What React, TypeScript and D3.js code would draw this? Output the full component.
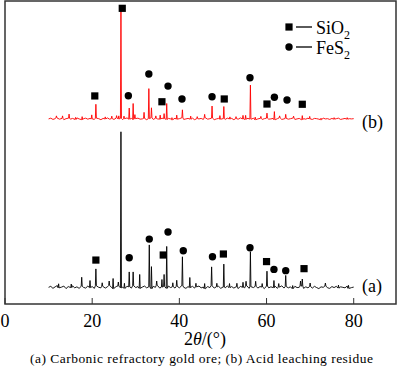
import { useEffect, useRef } from "react";
import * as d3 from "d3";

// 2θ range of the scans
const scanStart = 10;
const scanEnd = 80;

// background counts, evenly spaced over 10..80°
const backgroundA = [
  66, 70, 62, 68, 73, 64, 67, 71, 61, 69, 65, 72, 64, 68, 62, 70, 66, 63, 71, 65,
  69, 62, 72, 66, 64, 70, 63, 68, 73, 65, 61, 69, 71, 64, 67, 62, 70, 68, 63, 72,
  65, 69, 62, 67, 71, 64, 68, 61, 70, 66, 73, 63, 67, 69, 62, 71, 65, 68, 63, 70,
  64, 72, 66, 62, 69, 65, 70, 63, 68, 71, 64, 67, 61, 69, 65, 72, 63, 68, 70, 62,
  67, 64, 71, 65, 69, 63, 68, 61, 70, 66, 64, 72, 62, 68, 65, 70, 63, 69, 67, 61,
  71, 64, 68, 65, 70, 62, 67, 72, 63, 69, 64, 68, 61, 70, 65, 66, 71, 62, 68, 64,
  69, 63, 70, 65, 61, 68, 66, 71, 64, 62, 69, 65, 70, 63, 68, 66, 64, 71, 62, 65,
  67,
];

const backgroundB = [
  73, 76, 71, 74, 77, 72, 75, 70, 74, 76, 72, 75, 71, 77, 73, 70, 74, 76, 72, 75,
  73, 71, 76, 74, 70, 75, 73, 77, 72, 74, 71, 76, 73, 75, 70, 74, 77, 72, 75, 71,
  74, 76, 72, 73, 75, 70, 74, 77, 71, 75, 73, 72, 76, 74, 71, 75, 73, 70, 76, 72,
  74, 77, 71, 73, 75, 72, 76, 70, 74, 73, 75, 71, 77, 72, 74, 76, 70, 73, 75, 72,
  74, 71, 76, 73, 75, 70, 74, 72, 77, 73, 71, 75, 74, 72, 76, 70, 73, 75, 71, 74,
  76, 72, 73, 75, 70, 74, 77, 71, 73, 75, 72, 74, 76, 71, 73, 75, 70, 74, 72, 76,
  73, 71, 75, 74, 72, 70, 76, 73, 74, 71, 75, 72, 74, 76, 71, 73, 75, 72, 74, 73,
  74,
];

// diffraction peaks: [2θ, height above background]
const peaksA: [number, number][] = [
  [12.3, 16], [15.2, 14], [17.6, 36], [19.5, 28], [20.85, 67], [22.3, 14],
  [23.9, 18], [24.8, 40], [26.0, 16], [26.6, 618], [27.4, 20], [28.5, 59],
  [29.4, 55], [30.9, 55], [33.1, 166], [33.6, 87], [34.8, 18], [36.0, 30],
  [36.5, 48], [37.1, 166], [38.5, 16], [39.4, 24], [40.7, 115], [42.4, 40],
  [43.8, 14], [45.8, 20], [47.4, 75], [48.6, 14], [50.2, 91], [51.5, 16],
  [53.2, 14], [54.6, 20], [55.3, 18], [56.3, 139], [57.5, 20], [59.0, 14],
  [60.1, 59], [61.7, 28], [62.8, 14], [64.4, 44], [66.0, 12], [67.8, 20],
  [68.2, 28], [70.0, 14], [73.5, 12], [76.5, 12], [78.8, 12],
];

const peaksB: [number, number][] = [
  [11.8, 8], [13.2, 10], [14.7, 16], [16.2, 8], [17.7, 12], [19.9, 16],
  [20.85, 55], [23.0, 8], [24.5, 10], [25.6, 10], [26.1, 12], [26.6, 432],
  [27.3, 10], [28.5, 44], [29.4, 63], [29.8, 16], [31.9, 24], [33.0, 119],
  [33.6, 40], [34.6, 10], [35.6, 16], [36.5, 20], [37.1, 63], [38.3, 8],
  [39.4, 16], [40.7, 32], [42.6, 12], [44.1, 8], [45.8, 14], [47.5, 48],
  [49.3, 14], [50.2, 48], [51.6, 8], [53.0, 8], [54.6, 14], [55.2, 16],
  [56.3, 135], [57.4, 10], [58.7, 8], [60.1, 20], [61.8, 32], [63.0, 8],
  [64.4, 16], [66.2, 8], [68.2, 16], [69.9, 10], [72.5, 6], [75.5, 6],
  [78.5, 6],
];

const offsetA = 0;
const offsetB = 660;

// phase markers: [2θ, intensity, phase]
const markersA: [number, number, string][] = [
  [20.85, 174, "SiO2"], [28.5, 183, "FeS2"], [33.1, 257, "FeS2"],
  [36.3, 194, "SiO2"], [37.4, 285, "FeS2"], [40.9, 211, "FeS2"],
  [47.6, 187, "FeS2"], [50.1, 198, "SiO2"], [56.2, 223, "FeS2"],
  [60.0, 168, "SiO2"], [61.7, 137, "FeS2"], [64.4, 132, "FeS2"],
  [68.6, 140, "SiO2"],
];

const markersB: [number, number, string][] = [
  [20.6, 824, "SiO2"], [26.9, 1171, "SiO2"], [28.3, 825, "FeS2"],
  [33.0, 911, "FeS2"], [36.0, 801, "SiO2"], [37.4, 863, "FeS2"],
  [40.6, 812, "FeS2"], [47.5, 821, "FeS2"], [50.3, 812, "SiO2"],
  [56.2, 896, "FeS2"], [60.1, 792, "SiO2"], [61.8, 819, "FeS2"],
  [64.7, 808, "FeS2"], [68.2, 791, "SiO2"],
];

const xTicks = [0, 20, 40, 60, 80];

const legendItems = [
  { phase: "SiO2", main: "SiO", sub: "2" },
  { phase: "FeS2", main: "FeS", sub: "2" },
];

const font = '"Liberation Serif", Tinos, "Times New Roman", Times, serif';

function buildProfile(bg: number[], peaks: [number, number][], offset: number) {
  const step = (scanEnd - scanStart) / (bg.length - 1);
  const pts: [number, number][] = [];
  bg.forEach((v, i) => {
    const x = scanStart + i * step;
    if (peaks.some((p) => Math.abs(p[0] - x) < 0.2)) return;
    pts.push([x, v + offset]);
  });
  peaks.forEach(([pos, h]) => {
    const base = bg[Math.round((pos - scanStart) / step)];
    pts.push([pos - 0.12, base + offset]);
    pts.push([pos, base + h + offset]);
    pts.push([pos + 0.12, base + offset]);
  });
  pts.sort((a, b) => a[0] - b[0]);
  return pts;
}

export default function App() {
  const svgRef = useRef<SVGSVGElement>(null);

  useEffect(() => {
    if (!svgRef.current) return;
    const svg = d3.select(svgRef.current);
    svg.selectAll("*").remove();

    const width = 400;
    const height = 371;
    const left = 5;
    const right = 396;
    const top = 1;
    const bottom = 304;

    const x = d3.scaleLinear().domain([0, 89.7]).range([left, right]);
    const y = d3.scaleLinear().domain([0, 1200]).range([bottom, top]);

    svg
      .attr("width", width)
      .attr("height", height)
      .attr("viewBox", `0 0 ${width} ${height}`)
      .style("font-family", font);

    const line = d3
      .line<[number, number]>()
      .x((d) => x(d[0]))
      .y((d) => y(d[1]));

    // patterns
    svg
      .append("path")
      .attr("d", line(buildProfile(backgroundA, peaksA, offsetA)))
      .attr("fill", "none")
      .attr("stroke", "#000")
      .attr("stroke-width", 0.9);

    svg
      .append("path")
      .attr("d", line(buildProfile(backgroundB, peaksB, offsetB)))
      .attr("fill", "none")
      .attr("stroke", "#ff0000")
      .attr("stroke-width", 0.9);

    // markers
    const drawMarker = (g: any, cx: number, cy: number, phase: string) => {
      if (phase === "SiO2") {
        g.append("rect")
          .attr("x", cx - 3.6)
          .attr("y", cy - 3.6)
          .attr("width", 7.2)
          .attr("height", 7.2)
          .attr("fill", "#000");
      } else {
        g.append("circle").attr("cx", cx).attr("cy", cy).attr("r", 3.7).attr("fill", "#000");
      }
    };

    const markerG = svg.append("g");
    [...markersA, ...markersB].forEach(([pos, val, phase]) => {
      drawMarker(markerG, x(pos), y(val), phase);
    });

    // frame
    svg
      .append("rect")
      .attr("x", left)
      .attr("y", top)
      .attr("width", right - left)
      .attr("height", bottom - top)
      .attr("fill", "none")
      .attr("stroke", "#333")
      .attr("stroke-width", 1.5);

    // x ticks (inward) and labels
    xTicks.forEach((t) => {
      svg
        .append("line")
        .attr("x1", x(t))
        .attr("x2", x(t))
        .attr("y1", bottom)
        .attr("y2", bottom - 6)
        .attr("stroke", "#333")
        .attr("stroke-width", 1);
      svg
        .append("text")
        .attr("x", x(t))
        .attr("y", 327)
        .attr("text-anchor", "middle")
        .attr("font-size", 18)
        .attr("fill", "#000")
        .text(t);
    });

    // axis title
    const title = svg
      .append("text")
      .attr("x", 205)
      .attr("y", 345)
      .attr("text-anchor", "middle")
      .attr("font-size", 18)
      .attr("fill", "#000");
    title.append("tspan").text("2");
    title.append("tspan").attr("font-style", "italic").text("θ");
    title.append("tspan").text("/(°)");

    // caption
    svg
      .append("text")
      .attr("x", 30)
      .attr("y", 363)
      .attr("font-size", 13.5)
      .attr("fill", "#000")
      .attr("textLength", 343)
      .attr("lengthAdjust", "spacing")
      .text("(a) Carbonic refractory gold ore; (b) Acid leaching residue");

    // pattern labels
    svg
      .append("text")
      .attr("x", 362)
      .attr("y", 292)
      .attr("font-size", 18)
      .attr("fill", "#000")
      .text("(a)");
    svg
      .append("text")
      .attr("x", 362)
      .attr("y", 128)
      .attr("font-size", 18)
      .attr("fill", "#000")
      .text("(b)");

    // legend
    const legend = svg.append("g").attr("transform", "translate(289, 27)");
    legendItems.forEach((item, i) => {
      const gy = i * 20;
      drawMarker(legend, 0, gy, item.phase);
      legend
        .append("line")
        .attr("x1", 7)
        .attr("x2", 23)
        .attr("y1", gy)
        .attr("y2", gy)
        .attr("stroke", "#000")
        .attr("stroke-width", 1.3);
      const t = legend
        .append("text")
        .attr("x", 27)
        .attr("y", gy + 6.5)
        .attr("font-size", 18)
        .attr("fill", "#000");
      t.append("tspan").text(item.main);
      t.append("tspan").attr("font-size", 12).attr("dy", 5).text(item.sub);
    });
  }, []);

  return (
    <div style={{ position: "absolute", left: 0, top: 0 }}>
      <svg ref={svgRef}></svg>
    </div>
  );
}
